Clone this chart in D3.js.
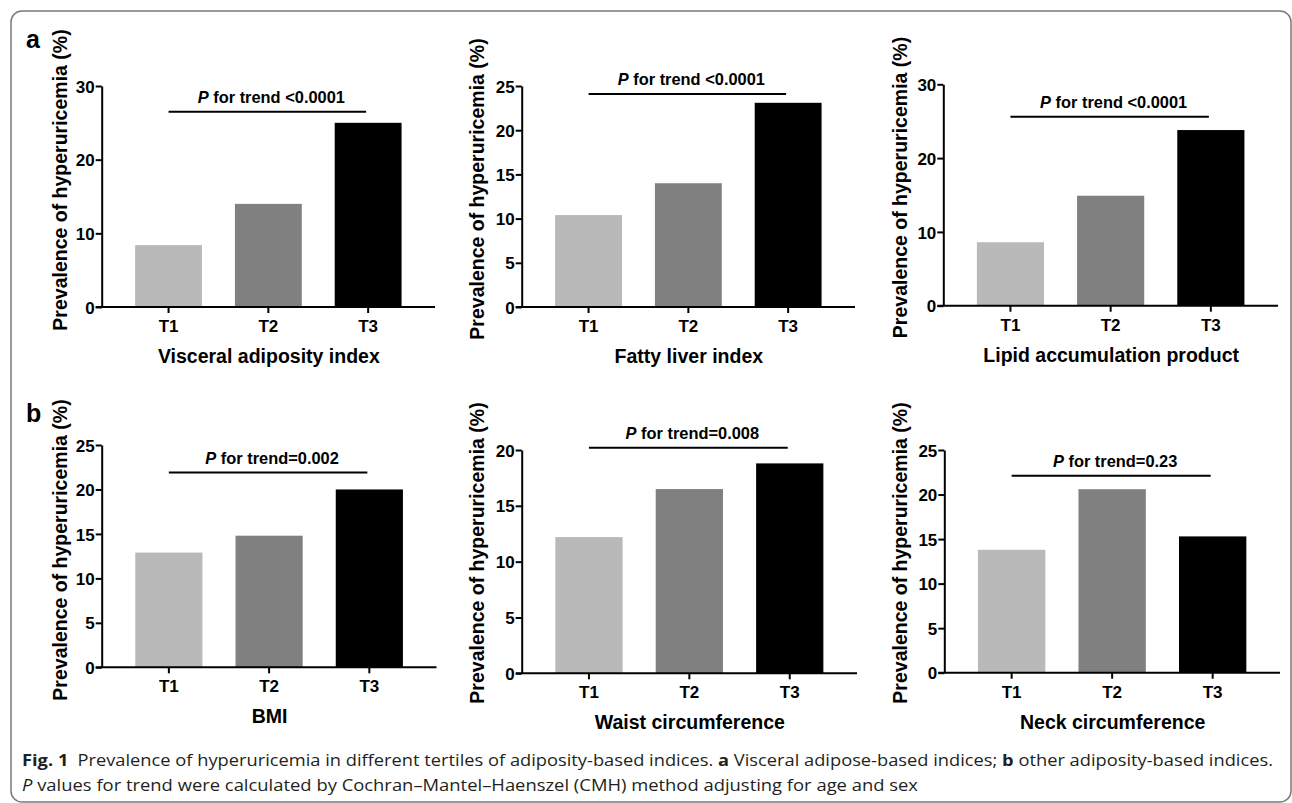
<!DOCTYPE html>
<html>

<head>
  <meta charset="utf-8">
  <title>Prevalence of hyperuricemia</title>
  <style>
    body { margin: 0; background: #fff; }
    svg { display: block; }
    .chart text { font-family: "Liberation Sans", Arial, sans-serif; font-weight: bold; fill: #000; }
    .caption text { font-family: "Open Sans", "Noto Sans", sans-serif; fill: #231f20; }
  </style>
</head>

<body>

  <svg id="main" width="1292" height="803"></svg>

  <script src="https://cdn.jsdelivr.net/npm/d3@7"></script>
  <script>

    const categories = ['T1', 'T2', 'T3']
    const panelTitles = [
      'Visceral adiposity index',
      'Fatty liver index',
      'Lipid accumulation product',
      'BMI',
      'Waist circumference',
      'Neck circumference'
    ]
    const vaiValues = [8.4, 14.0, 25.0]
    const fliValues = [10.4, 14.0, 23.1]
    const lapValues = [8.6, 14.9, 23.8]
    const bmiValues = [12.9, 14.8, 20.0]
    const waistValues = [12.2, 16.5, 18.8]
    const neckValues = [13.8, 20.6, 15.3]
    const seriesValues = [vaiValues, fliValues, lapValues, bmiValues, waistValues, neckValues]
    const yMax = [30, 25, 30, 25, 20, 25]
    const yTickStep = [10, 5, 10, 5, 5, 5]
    const trendLabels = [' <0.0001', ' <0.0001', ' <0.0001', '=0.002', '=0.008', '=0.23']
    const trendLevels = [26.5, 24.1, 25.6, 21.9, 20.2, 22.1]
    const barColors = ['#b8b9b8', '#808080', '#000000']

    // pixel layout of each panel (axis box, y title position)
    const layout = [
      { x0: 101.7, x1: 435, top: 86, bottom: 307, titleX: 67, titleY: 180, tag: 'a' },
      { x0: 521.7, x1: 855, top: 86, bottom: 307, titleX: 483.5, titleY: 189 },
      { x0: 943.3, x1: 1278, top: 84.3, bottom: 305.7, titleX: 906.7, titleY: 187.5 },
      { x0: 101.7, x1: 436.5, top: 445, bottom: 667.3, titleX: 67, titleY: 550, tag: 'b' },
      { x0: 521.7, x1: 857, top: 450, bottom: 673.3, titleX: 483.5, titleY: 553 },
      { x0: 944.3, x1: 1280, top: 450, bottom: 672.7, titleX: 907.3, titleY: 553 }
    ]

    const svg = d3.select('#main')

    svg.append('rect')
      .attr('x', 11).attr('y', 11)
      .attr('width', 1280).attr('height', 791)
      .attr('rx', 11)
      .attr('fill', 'none')
      .attr('stroke', '#7a7a7a')
      .attr('stroke-width', 1.5)

    const chart = svg.append('g').attr('class', 'chart')

    layout.forEach((p, i) => {
      const g = chart.append('g')
      const values = seriesValues[i]

      const x = d3.scaleBand()
        .domain(categories)
        .range([p.x0, p.x1])
        .paddingInner(0.33)
        .paddingOuter(0.335)

      const y = d3.scaleLinear()
        .domain([0, yMax[i]])
        .range([p.bottom, p.top])

      g.selectAll('rect')
        .data(values)
        .join('rect')
        .attr('x', (d, j) => x(categories[j]))
        .attr('y', d => y(d))
        .attr('width', x.bandwidth())
        .attr('height', d => y(0) - y(d))
        .attr('fill', (d, j) => barColors[j])

      const yAxis = g.append('g')
        .attr('transform', `translate(${p.x0},0)`)
        .call(d3.axisLeft(y)
          .tickValues(d3.range(0, yMax[i] + 0.001, yTickStep[i]))
          .tickSize(6)
          .tickPadding(1)
          .tickSizeOuter(0))
      yAxis.attr('font-size', null).attr('font-family', null)
      yAxis.selectAll('.domain, line').attr('stroke', '#000').attr('stroke-width', 2)
      yAxis.selectAll('text').attr('font-size', '17px').attr('dy', '0.36em')

      const xAxis = g.append('g')
        .attr('transform', `translate(0,${p.bottom})`)
        .call(d3.axisBottom(x).tickSize(6).tickPadding(7).tickSizeOuter(0))
      xAxis.attr('font-size', null).attr('font-family', null)
      xAxis.select('.domain').attr('d', `M${p.x0 - 6},0H${p.x1}`)
      xAxis.selectAll('.domain, line').attr('stroke', '#000').attr('stroke-width', 2)
      xAxis.selectAll('text').attr('font-size', '17px').attr('dy', '0.71em')

      g.append('text')
        .attr('transform', `translate(${p.titleX},${p.titleY}) rotate(-90)`)
        .attr('text-anchor', 'middle')
        .attr('font-size', '19.5px')
        .text('Prevalence of hyperuricemia (%)')

      g.append('text')
        .attr('x', (p.x0 + p.x1) / 2 + 0.5)
        .attr('y', p.bottom + 56)
        .attr('text-anchor', 'middle')
        .attr('font-size', '19.5px')
        .text(panelTitles[i])

      const ly = y(trendLevels[i])
      const lx0 = x(categories[0]) + x.bandwidth() / 2
      const lx1 = x(categories[2]) + x.bandwidth() / 2 - 2
      g.append('line')
        .attr('x1', lx0).attr('x2', lx1)
        .attr('y1', ly).attr('y2', ly)
        .attr('stroke', '#000')
        .attr('stroke-width', 2)

      const t = g.append('text')
        .attr('x', (lx0 + lx1) / 2 + 4)
        .attr('y', ly - 8.5)
        .attr('text-anchor', 'middle')
        .attr('font-size', '16.4px')
      t.append('tspan').attr('font-style', 'italic').text('P')
      t.append('tspan').text(' for trend' + trendLabels[i])

      if (p.tag) {
        g.append('text')
          .attr('x', 26)
          .attr('y', p.top - (p.tag === 'a' ? 38 : 23))
          .attr('font-size', '25px')
          .text(p.tag)
      }
    })

    const caption = svg.append('g').attr('class', 'caption')

    const line1 = caption.append('text')
      .attr('x', 22).attr('y', 766)
      .attr('font-size', '16.5px')
      .attr('textLength', 1251)
      .attr('lengthAdjust', 'spacingAndGlyphs')
    line1.append('tspan').attr('font-weight', 'bold').text('Fig. 1')
    line1.append('tspan').text('\u2002Prevalence of hyperuricemia in different tertiles of adiposity-based indices. ')
    line1.append('tspan').attr('font-weight', 'bold').text('a')
    line1.append('tspan').text(' Visceral adipose-based indices; ')
    line1.append('tspan').attr('font-weight', 'bold').text('b')
    line1.append('tspan').text(' other adiposity-based indices.')

    const line2 = caption.append('text')
      .attr('x', 22).attr('y', 791)
      .attr('font-size', '16.5px')
      .attr('textLength', 896)
      .attr('lengthAdjust', 'spacingAndGlyphs')
    line2.append('tspan').attr('font-style', 'italic').text('P')
    line2.append('tspan').text(' values for trend were calculated by Cochran\u2013Mantel\u2013Haenszel (CMH) method adjusting for age and sex')

  </script>
</body>

</html>
